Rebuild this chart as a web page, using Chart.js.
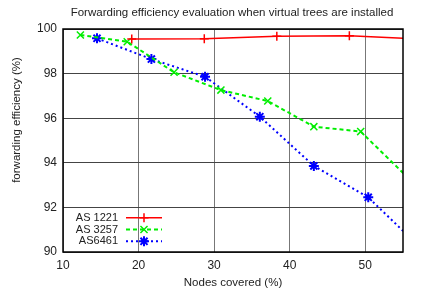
<!DOCTYPE html>
<html>
<head>
<meta charset="utf-8">
<script src="https://cdn.jsdelivr.net/npm/chart.js@4/dist/chart.umd.min.js"></script>
<style>
  body { margin: 0; background: #fff; }
  #wrap { width: 433px; height: 290px; }
</style>
</head>
<body>
<div id="wrap"><canvas id="myChart"></canvas></div>
<script>
// data
var as1221X = [19.1, 28.7, 38.3, 47.9, 57.5];
var as1221Y = [99.55, 99.56, 99.67, 99.7, 99.55];
var as3257X = [12.3, 18.5, 24.7, 30.9, 37.1, 43.2, 49.4, 55.6];
var as3257Y = [99.73, 99.43, 98.06, 97.26, 96.77, 95.62, 95.4, 93.35];
var as6461X = [14.5, 21.7, 28.8, 36.05, 43.2, 50.4, 57.6];
var as6461Y = [99.58, 98.65, 97.86, 96.07, 93.86, 92.45, 90.1];
var xTicks = [10, 20, 30, 40, 50];
var seriesNames = ['AS 1221', 'AS 3257', 'AS6461'];
var chartTitle = 'Forwarding efficiency evaluation when virtual trees are installed';

function pts(xs, ys) {
    return xs.map(function (x, i) { return { x: x, y: ys[i] }; });
}

var font = 'Liberation Sans, Arial, sans-serif';
Chart.defaults.font.family = font;
Chart.defaults.color = '#222';

// frame around the plot, title, y label and legend inside it (gnuplot style)
var framePlugin = {
    id: 'frame',
    afterDatasetsDraw: function (chart) {
        var c = chart.ctx, a = chart.chartArea;
        c.save();
        c.strokeStyle = '#000';
        c.lineWidth = 1.5;
        c.setLineDash([]);
        c.strokeRect(a.left, a.top, a.right - a.left, a.bottom - a.top);

        c.fillStyle = '#222';
        c.textAlign = 'center';
        c.textBaseline = 'middle';
        c.font = '11.5px ' + font;
        c.fillText(chartTitle, 232, 13);

        // y axis label
        c.save();
        c.translate(17, 120);
        c.rotate(-Math.PI / 2);
        c.font = '11.5px ' + font;
        c.fillText('forwarding efficiency (%)', 0, 0);
        c.restore();

        // legend
        var rows = [217.7, 229.5, 241.3];
        c.font = '11px ' + font;
        c.textAlign = 'right';
        chart.data.datasets.forEach(function (ds, i) {
            var y = rows[i];
            c.fillStyle = '#222';
            c.fillText(ds.label, 118, y);
            c.strokeStyle = ds.borderColor;
            c.lineWidth = ds.borderWidth;
            c.setLineDash(ds.borderDash || []);
            c.beginPath();
            c.moveTo(126, y);
            c.lineTo(162, y);
            c.stroke();
            c.setLineDash([]);
            c.lineWidth = ds.pointBorderWidth;
            Chart.helpers.drawPoint(c, {
                pointStyle: ds.pointStyle,
                radius: ds.pointRadius,
                borderWidth: ds.pointBorderWidth,
                rotation: 0
            }, 144, y);
        });
        c.restore();
    }
};

var ctx = document.getElementById('myChart').getContext('2d');
var chart = new Chart(ctx, {
    type: 'line',
    data: {
        datasets: [{
            label: seriesNames[0],
            data: pts(as1221X, as1221Y),
            borderColor: '#ff0000',
            backgroundColor: '#ff0000',
            borderWidth: 1.5,
            pointStyle: 'cross',
            pointRadius: 4.5,
            pointBorderWidth: 1.5
        }, {
            label: seriesNames[1],
            data: pts(as3257X, as3257Y),
            borderColor: '#00ee00',
            backgroundColor: '#00ee00',
            borderWidth: 2,
            borderDash: [4, 3],
            pointStyle: 'crossRot',
            pointRadius: 5,
            pointBorderWidth: 1.5
        }, {
            label: seriesNames[2],
            data: pts(as6461X, as6461Y),
            borderColor: '#0000ff',
            backgroundColor: '#0000ff',
            borderWidth: 2,
            borderDash: [2, 3],
            pointStyle: 'star',
            pointRadius: 5,
            pointBorderWidth: 2
        }]
    },
    options: {
        responsive: true,
        maintainAspectRatio: false,
        animation: false,
        events: [],
        layout: { padding: { left: 0, right: 30, top: 29, bottom: 0 } },
        elements: { line: { tension: 0 } },
        plugins: {
            legend: { display: false },
            tooltip: { enabled: false },
            title: { display: false }
        },
        scales: {
            x: {
                type: 'linear',
                min: 10,
                max: 55,
                afterBuildTicks: function (s) {
                    s.ticks = xTicks.map(function (v) { return { value: v }; });
                },
                afterFit: function (s) { s.height = 38; },
                grid: { color: '#777', borderDash: [1, 2], drawTicks: false },
                border: { display: false },
                ticks: { font: { size: 12 }, padding: 6, maxRotation: 0 },
                title: { display: true, text: 'Nodes covered (%)', font: { size: 11.5 }, padding: 0 }
            },
            y: {
                min: 90,
                max: 100,
                afterFit: function (s) { s.width = 63; },
                grid: { color: '#444', borderDash: [1, 2], drawTicks: false },
                border: { display: false },
                ticks: { stepSize: 2, font: { size: 12 }, padding: 6 }
            }
        }
    },
    plugins: [framePlugin]
});
</script>
</body>
</html>
